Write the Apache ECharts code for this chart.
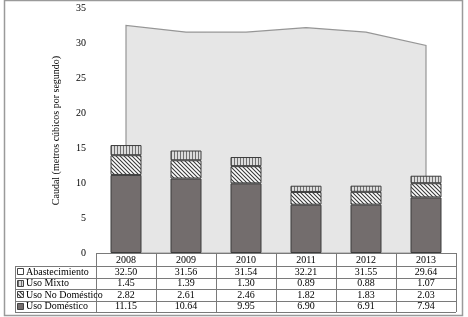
<!DOCTYPE html>
<html>
<head>
<meta charset="utf-8">
<script src="https://cdn.jsdelivr.net/npm/echarts@6/dist/echarts.min.js"></script>
<style>
  html, body { margin: 0; padding: 0; background: #fff; }
  #chart { width: 468px; height: 317px; }
</style>
</head>
<body>
<div id="chart"></div>
<script>
var years = ['2008', '2009', '2010', '2011', '2012', '2013'];
var abastecimiento = [32.50, 31.56, 31.54, 32.21, 31.55, 29.64];
var usoMixto = [1.45, 1.39, 1.30, 0.89, 0.88, 1.07];
var usoNoDomestico = [2.82, 2.61, 2.46, 1.82, 1.83, 2.03];
var usoDomestico = [11.15, 10.64, 9.95, 6.90, 6.91, 7.94];
var yTicks = [0, 5, 10, 15, 20, 25, 30, 35];

var FONT = '"Liberation Serif", "DejaVu Serif", serif';

// hatch patterns
function diagPattern() {
    var c = document.createElement('canvas');
    c.width = 4; c.height = 4;
    var g = c.getContext('2d');
    g.fillStyle = '#ffffff';
    g.fillRect(0, 0, 4, 4);
    g.strokeStyle = '#3a3a3a';
    g.lineWidth = 1.1;
    g.beginPath();
    g.moveTo(-1, -1); g.lineTo(5, 5);
    g.moveTo(-1, 3); g.lineTo(1, 5);
    g.moveTo(3, -1); g.lineTo(5, 1);
    g.stroke();
    return c;
}
function vertPattern() {
    var c = document.createElement('canvas');
    c.width = 3; c.height = 3;
    var g = c.getContext('2d');
    g.fillStyle = '#dcdcdc';
    g.fillRect(0, 0, 3, 3);
    g.fillStyle = '#707070';
    g.fillRect(0, 0, 1, 3);
    return c;
}
var diag = { image: diagPattern(), repeat: 'repeat' };
var vert = { image: vertPattern(), repeat: 'repeat' };

var dom = document.getElementById('chart');
var myChart = echarts.init(dom, null, { renderer: 'canvas' });

var gridLeft = 96, gridTop = 8, gridW = 360, gridH = 245;

var option = {
    animation: false,
    backgroundColor: '#ffffff',
    grid: { left: gridLeft, top: gridTop, width: gridW, height: gridH },
    xAxis: {
        type: 'category',
        data: years,
        axisLine: { show: false },
        axisTick: { show: false },
        axisLabel: { show: false }
    },
    yAxis: {
        type: 'value',
        min: 0, max: 35, interval: 5,
        name: 'Caudal (metros cúbicos por segundo)',
        nameLocation: 'middle',
        nameGap: 35,
        nameRotate: 90,
        nameTextStyle: { fontFamily: FONT, fontSize: 10, color: '#000' },
        axisLine: { show: false },
        axisTick: { show: false },
        splitLine: { show: false },
        axisLabel: {
            fontFamily: FONT, fontSize: 10, color: '#000', margin: 10,
            formatter: function (v) { return yTicks.indexOf(v) >= 0 ? String(v) : ''; }
        }
    },
    series: [
        {
            name: 'Abastecimiento',
            type: 'custom',
            z: 1,
            data: abastecimiento.map(function (v, i) { return [i, v]; }),
            renderItem: function (params, api) {
                if (params.dataIndex !== 0) return null;
                var pts = [];
                pts.push(api.coord([0, 0]));
                for (var i = 0; i < abastecimiento.length; i++) {
                    pts.push(api.coord([i, abastecimiento[i]]));
                }
                pts.push(api.coord([abastecimiento.length - 1, 0]));
                return {
                    type: 'polygon',
                    shape: { points: pts },
                    style: { fill: '#e6e6e6', stroke: '#969696', lineWidth: 1.2 }
                };
            }
        },
        {
            name: 'Uso Doméstico', type: 'bar', stack: 'uso', barWidth: 31, z: 3,
            data: usoDomestico,
            itemStyle: { color: '#736d6d', borderColor: '#3c3c3c', borderWidth: 1 }
        },
        {
            name: 'Uso No Doméstico', type: 'bar', stack: 'uso', barWidth: 31, z: 3,
            data: usoNoDomestico,
            itemStyle: { color: diag, borderColor: '#3c3c3c', borderWidth: 1 }
        },
        {
            name: 'Uso Mixto', type: 'bar', stack: 'uso', barWidth: 31, z: 3,
            data: usoMixto,
            itemStyle: { color: vert, borderColor: '#3c3c3c', borderWidth: 1 }
        }
    ]
};

myChart.setOption(option);

// data table below the plot
var rows = [
    { label: 'Abastecimiento', values: abastecimiento, icon: '#ffffff' },
    { label: 'Uso Mixto', values: usoMixto, icon: vert },
    { label: 'Uso No Doméstico', values: usoNoDomestico, icon: diag },
    { label: 'Uso Doméstico', values: usoDomestico, icon: '#736d6d' }
];
var tableLeft = 15, tableTop = gridTop + gridH, headH = 13, rowH = 11.5;
var colW = gridW / years.length;
var lineCol = '#7a7a7a';
var els = [];

// outer frame
els.push({ type: 'rect', shape: { x: 4.5, y: 0.5, width: 458, height: 315 },
    style: { fill: 'none', stroke: '#9a9a9a', lineWidth: 1.5 }, z: 0, silent: true });

var tableBottom = tableTop + headH + rowH * rows.length;
// horizontal lines
els.push({ type: 'line', shape: { x1: gridLeft, y1: tableTop + 0.5, x2: gridLeft + gridW, y2: tableTop + 0.5 },
    style: { stroke: lineCol, lineWidth: 1 }, z: 10 });
for (var r = 0; r <= rows.length; r++) {
    var y = Math.round(tableTop + headH + rowH * r) + 0.5;
    els.push({ type: 'line', shape: { x1: tableLeft, y1: y, x2: gridLeft + gridW, y2: y },
        style: { stroke: lineCol, lineWidth: 1 }, z: 10 });
}
// vertical lines
els.push({ type: 'line', shape: { x1: tableLeft + 0.5, y1: tableTop + headH, x2: tableLeft + 0.5, y2: tableBottom },
    style: { stroke: lineCol, lineWidth: 1 }, z: 10 });
for (var c = 0; c <= years.length; c++) {
    var x = Math.round(gridLeft + colW * c) + 0.5;
    els.push({ type: 'line', shape: { x1: x, y1: tableTop, x2: x, y2: tableBottom },
        style: { stroke: lineCol, lineWidth: 1 }, z: 10 });
}
// header
years.forEach(function (yr, i) {
    var cx = myChart.convertToPixel({ xAxisIndex: 0 }, yr);
    els.push({ type: 'text', x: cx, y: tableTop + headH / 2 + 0.5, z: 11,
        style: { text: yr, font: '10px ' + FONT, fill: '#000', align: 'center', verticalAlign: 'middle' } });
});
// rows
rows.forEach(function (row, r) {
    var cy = tableTop + headH + rowH * r + rowH / 2 + 0.5;
    els.push({ type: 'rect', shape: { x: 17.5, y: Math.round(cy) - 3.5, width: 6, height: 6 }, z: 11,
        style: { fill: row.icon, stroke: '#444', lineWidth: 1 } });
    els.push({ type: 'text', x: 26, y: cy, z: 11,
        style: { text: row.label, font: '10px ' + FONT, fill: '#000', align: 'left', verticalAlign: 'middle' } });
    row.values.forEach(function (v, i) {
        var cx = myChart.convertToPixel({ xAxisIndex: 0 }, years[i]);
        els.push({ type: 'text', x: cx, y: cy, z: 11,
            style: { text: v.toFixed(2), font: '10px ' + FONT, fill: '#000', align: 'center', verticalAlign: 'middle' } });
    });
});

myChart.setOption({ graphic: { elements: els } });

window.onresize = function () {
    myChart.resize();
};
</script>
</body>
</html>
